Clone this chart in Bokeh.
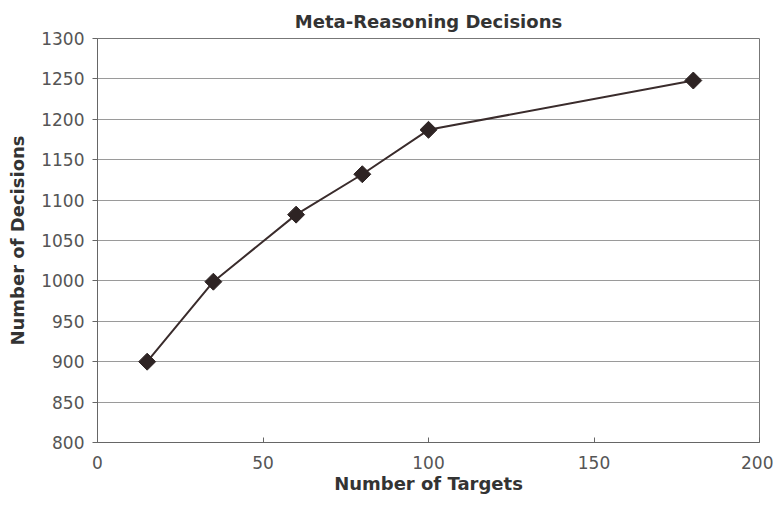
import math
from bokeh.plotting import figure
from bokeh.embed import file_html
from bokeh.resources import INLINE
from bokeh.models import Range1d, FixedTicker

targets = [15, 35, 60, 80, 100, 180]
decisions = [900, 999, 1082, 1132, 1187, 1248]
x_ticks = [0, 50, 100, 150, 200]
y_ticks = [800, 850, 900, 950, 1000, 1050, 1100, 1150, 1200, 1250, 1300]

FONT = "DejaVu Sans"

p = figure(width=773, height=498, output_backend="svg", toolbar_location=None,
           x_range=Range1d(0, 200), y_range=Range1d(800, 1300),
           min_border_left=97, min_border_right=14, min_border_top=38, min_border_bottom=56)
p.title.text = "Meta-Reasoning Decisions"
p.title.align = "center"
p.title.vertical_align = "top"
p.title.text_font = FONT
p.title.text_font_size = "18px"
p.title.text_color = "#333333"
p.title.offset = 0
p.title.standoff = 10

p.outline_line_color = "#777777"
p.outline_line_width = 1

p.line(targets, decisions, line_color="#3a2c2c", line_width=2)
p.scatter(targets, decisions, marker="square", angle=math.pi / 4, size=12,
          fill_color="#2e2424", line_color="#2e2424")

for ax in (p.xaxis[0], p.yaxis[0]):
    ax.axis_line_color = "#666666"
    ax.major_tick_line_color = "#666666"
    ax.minor_tick_line_color = None
    ax.major_label_text_font = FONT
    ax.major_label_text_font_size = "17px"
    ax.major_label_text_color = "#555555"
    ax.axis_label_text_font = FONT
    ax.axis_label_text_font_size = "18px"
    ax.axis_label_text_font_style = "bold"
    ax.axis_label_text_color = "#333333"

p.xaxis.ticker = FixedTicker(ticks=x_ticks)
p.yaxis.ticker = FixedTicker(ticks=y_ticks)
p.xaxis.major_tick_in = 5
p.xaxis.major_tick_out = 0
p.yaxis.major_tick_in = 0
p.yaxis.major_tick_out = 5
p.xaxis.axis_label = "Number of Targets"
p.yaxis.axis_label = "Number of Decisions"
p.xaxis.major_label_standoff = 13
p.xaxis.axis_label_standoff = 1
p.yaxis.major_label_standoff = 8
p.yaxis.axis_label_standoff = 10

p.xgrid.grid_line_color = None
p.ygrid.grid_line_color = "#9a9a9a"
p.ygrid.grid_line_width = 1

open("out.html", "w").write(file_html(p, INLINE))
